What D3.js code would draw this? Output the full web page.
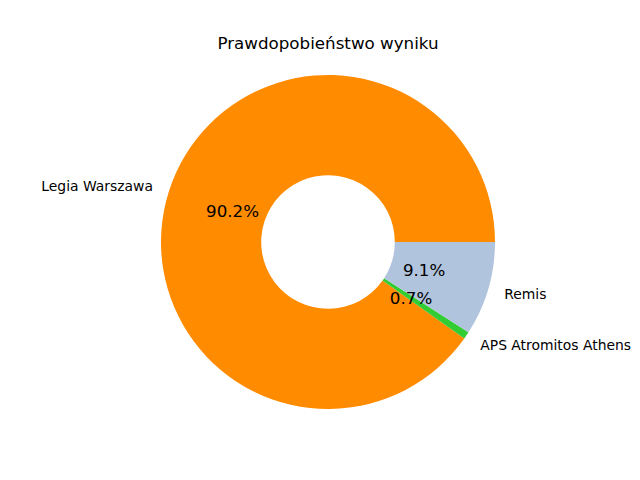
<!DOCTYPE html>
<html><head><meta charset="utf-8">
<script src="https://cdn.jsdelivr.net/npm/d3@7"></script>
<style>body{margin:0;background:#fff}text{font-family:"DejaVu Sans",sans-serif}</style>
</head><body>
<svg id="c" width="640" height="480"></svg>
<script>
const categories = ["Legia Warszawa", "APS Atromitos Athens", "Remis"];
const values = [90.2, 0.7, 9.1];
const colors = ["#FF8C00", "#32CD32", "#B0C4DE"];
const title = "Prawdopobieństwo wyniku";

const svg = d3.select("#c");
const cx = 328, cy = 242, R = 167, r = R * 0.4;
const g = svg.append("g").attr("transform", `translate(${cx},${cy})`);
const pie = d3.pie().sort(null).startAngle(Math.PI / 2).endAngle(Math.PI / 2 - 2 * Math.PI);
const arcs = pie(values);
const arc = d3.arc().innerRadius(r).outerRadius(R);
g.selectAll("path").data(arcs).join("path")
  .attr("d", arc).attr("fill", (d, i) => colors[i]);
const total = d3.sum(values);
arcs.forEach((d, i) => {
  const a = (d.startAngle + d.endAngle) / 2;
  const sx = Math.sin(a), sy = -Math.cos(a);
  g.append("text").attr("x", 1.1 * R * sx).attr("y", 1.1 * R * sy)
    .attr("dy", "0.35em").attr("font-size", "13.9px")
    .attr("text-anchor", sx > 0 ? "start" : "end").text(categories[i]);
  g.append("text").attr("x", 0.6 * R * sx).attr("y", 0.6 * R * sy)
    .attr("dy", "0.35em").attr("font-size", "16.7px")
    .attr("text-anchor", "middle").text((values[i] / total * 100).toFixed(1) + "%");
});
svg.append("text").attr("x", cx).attr("y", 49).attr("text-anchor", "middle")
  .attr("font-size", "16.7px").text(title);
</script>
</body></html>
